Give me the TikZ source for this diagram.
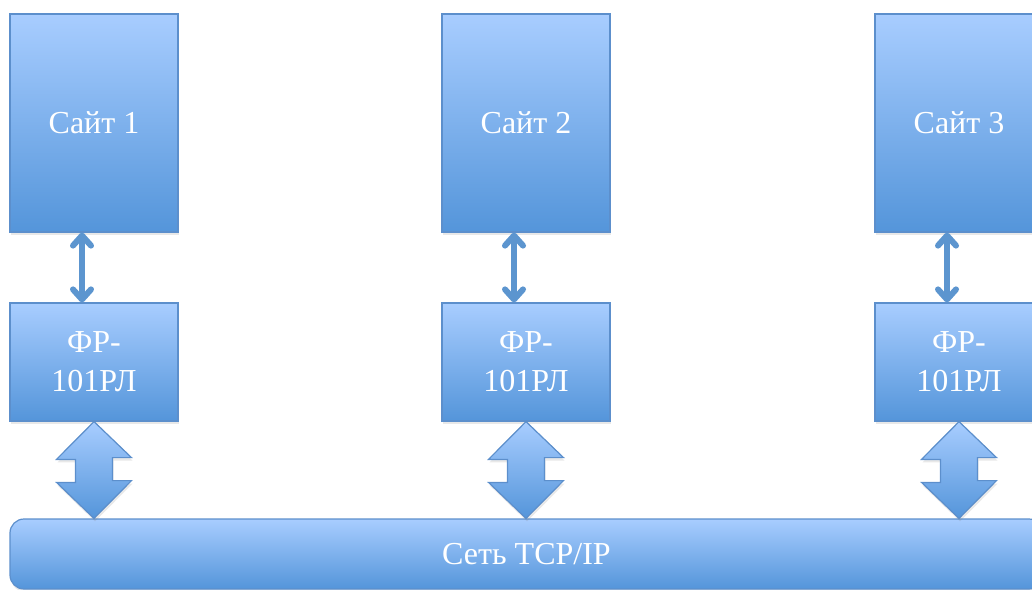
\documentclass[tikz,border=0pt]{standalone}
\usepackage{fontspec}
\setmainfont{Liberation Serif}
\usetikzlibrary{arrows.meta,calc,shadows}

\definecolor{boxtop}{RGB}{168,205,255}
\definecolor{boxbot}{RGB}{84,149,218}
\definecolor{boxline}{RGB}{92,143,204}
\definecolor{linkcol}{RGB}{92,149,207}

\begin{document}
\begin{tikzpicture}[x=1pt,y=-1pt,
	box/.style={draw=boxline, line width=1.2pt, top color=boxtop, bottom color=boxbot,
		drop shadow={shadow xshift=1pt, shadow yshift=-3pt, opacity=0.18},
		text=white, font=\fontsize{32}{39}\selectfont, align=center, inner sep=0pt},
	sitebox/.style={box, minimum width=168pt, minimum height=218pt},
	frbox/.style={box, minimum width=168pt, minimum height=118pt},
	netbox/.style={box, minimum width=1033pt, minimum height=70pt, rounded corners=14pt},
	link/.style={linkcol, line width=6pt, line cap=round,
		{Straight Barb[length=10pt, width=18pt, line cap=round, line join=round]}-{Straight Barb[length=10pt, width=18pt, line cap=round, line join=round]}},
	bigarrow/.style={draw=boxline, line width=1.2pt, top color=boxtop, bottom color=boxbot,
		drop shadow={shadow xshift=1pt, shadow yshift=-3pt, opacity=0.18}}]
	
	\useasboundingbox (0,0) rectangle (1032,589);
	\clip (0,0) rectangle (1032,589);
	
	% sites and their FR-101RL units
	\foreach \i/\cx in {1/94, 2/526, 3/959} {
		\node[sitebox] (s\i) at (\cx,123) {Сайт \i};
		\node[frbox] (f\i) at (\cx,362) {ФР-\\101РЛ};
	}
	
	% network
	\node[netbox] (net) at (526.5,554) {Сеть TCP/IP};
	
	\foreach \i in {1,2,3} {
		\draw[link] ([xshift=-12pt]s\i.south) -- ([xshift=-12pt]f\i.north);
		\filldraw[bigarrow] (f\i.south) -- ++(37.5,36) -- ++(-19,0) -- ++(0,23)
			-- ++(19,0) -- ($(f\i.south |- net.north)$) -- ++(-37.5,-36) -- ++(19,0)
			-- ++(0,-23) -- ++(-19,0) -- cycle;
	}
	
\end{tikzpicture}
\end{document}
